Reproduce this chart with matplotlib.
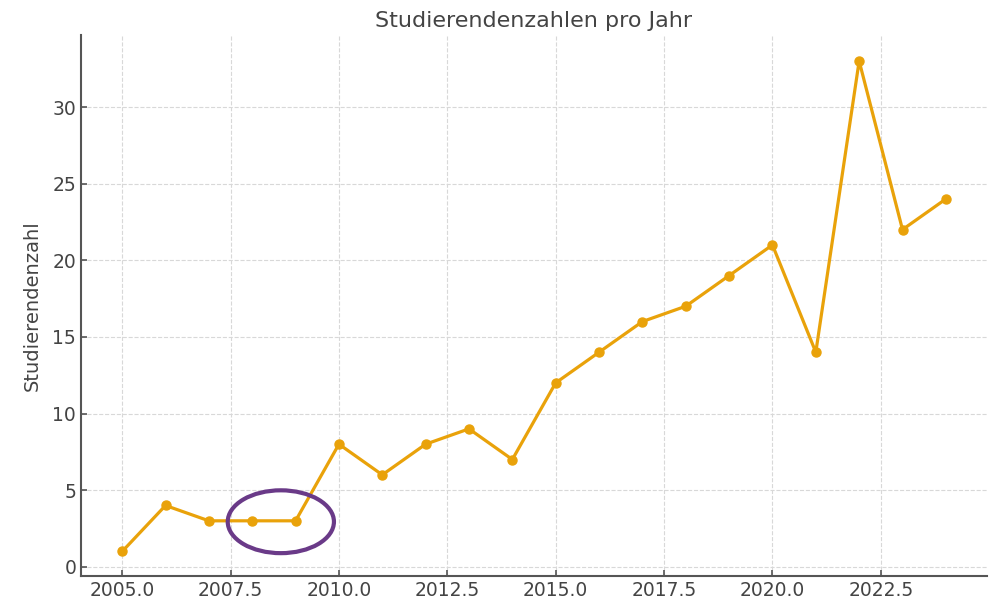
import matplotlib
matplotlib.use("Agg")
import matplotlib.pyplot as plt
from matplotlib.patches import Ellipse

jahre = [2005, 2006, 2007, 2008, 2009, 2010, 2011, 2012, 2013, 2014,
         2015, 2016, 2017, 2018, 2019, 2020, 2021, 2022, 2023, 2024]
studierende = [1, 4, 3, 3, 3, 8, 6, 8, 9, 7,
               12, 14, 16, 17, 19, 21, 14, 33, 22, 24]

titel = "Studierendenzahlen pro Jahr"
y_label = "Studierendenzahl"

text_col = "#444444"
plt.rcParams["font.size"] = 13.5
plt.rcParams["text.color"] = text_col
plt.rcParams["xtick.color"] = text_col
plt.rcParams["ytick.color"] = text_col
plt.rcParams["axes.labelcolor"] = text_col

fig = plt.figure(figsize=(9.95, 6.03), dpi=100)
ax = fig.add_axes([0.0814, 0.0448, 0.9106, 0.8972])

ax.plot(jahre, studierende, color="#E9A20A", lw=2.3, marker="o", ms=6.5)

# Markierung der stagnierenden Jahre
ax.add_patch(Ellipse((2008.66, 2.94), 2.45, 4.1, fill=False,
                     edgecolor="#6A3A88", lw=3, zorder=5))

ax.set_xlim(2004.05, 2024.95)
ax.set_ylim(-0.6, 34.7)
ax.set_yticks([0, 5, 10, 15, 20, 25, 30])
ax.xaxis.set_major_formatter(plt.FormatStrFormatter("%.1f"))
ax.set_title(titel, color=text_col, fontsize=16, pad=6)
ax.set_ylabel(y_label, fontsize=14, labelpad=8)

ax.grid(True, ls="--", color="#d8d8d8", lw=0.8)
ax.spines["top"].set_visible(False)
ax.spines["right"].set_visible(False)
for s in ["left", "bottom"]:
    ax.spines[s].set_color("#555555")
    ax.spines[s].set_linewidth(1.5)
ax.tick_params(direction="in", length=4, width=1.2, color="#555555")

fig.savefig("out.png", dpi=100)
